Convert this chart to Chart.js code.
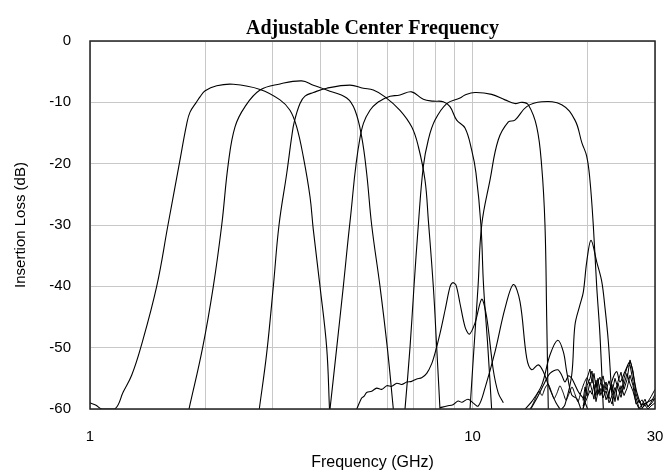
<!DOCTYPE html>
<html>
<head>
<meta charset="utf-8">
<title>Adjustable Center Frequency</title>
<script src="https://cdn.jsdelivr.net/npm/chart.js@4.4.1/dist/chart.umd.min.js"></script>
<style>
  html, body { margin: 0; padding: 0; background: #fff; }
  #wrap { width: 665px; height: 474px; }
</style>
</head>
<body>
<div id="wrap"><canvas id="filterChart" width="665" height="474"></canvas></div>
<script>
// axis ticks
const xGridTicks = [1, 2, 3, 4, 5, 6, 7, 8, 9, 10, 20, 30];
const xLabelTicks = [1, 10, 30];
const yTicks = [0, -10, -20, -30, -40, -50, -60];

// passbands: frequency (GHz) / insertion loss (dB)
const bandAFreq = [1.000, 1.037, 1.075, 1.162, 1.222, 1.285, 1.357, 1.494, 1.599, 1.712, 1.789, 1.826, 1.901, 1.939, 2.000, 2.144, 2.369, 2.783, 3.139, 3.333, 3.470, 3.612, 3.760, 3.836, 3.993, 4.157, 4.228];
const bandADb   = [-59.0, -59.4, -60, -60, -57.2, -54.5, -50, -40, -30, -20, -13.6, -11.6, -9.9, -9.1, -8.1, -7.3, -7.06, -7.9, -9.6, -11.3, -14, -18.9, -25.4, -30.8, -40, -50, -60];

const bandBFreq = [1.815, 1.970, 2.101, 2.210, 2.299, 2.394, 2.543, 2.783, 3.139, 3.578, 3.836, 4.157, 4.690, 4.930, 5.131, 5.289, 5.450, 5.730, 5.988, 6.209];
const bandBDb   = [-60, -50, -40, -30, -20, -14, -10.7, -8.0, -7.0, -6.5, -7.2, -8.0, -9.3, -11.3, -15.6, -21.6, -30, -40, -50, -60];

const bandCFreq = [2.771, 2.897, 3.015, 3.120, 3.268, 3.368, 3.420, 3.540, 3.648, 3.836, 4.157, 4.783, 5.183, 5.504, 5.906, 6.463, 6.934, 7.217, 7.514, 7.665, 7.898, 8.062, 8.222];
const bandCDb   = [-60, -50.9, -40, -30, -21.6, -15.6, -13.2, -10.2, -9.0, -8.4, -7.7, -7.2, -7.7, -8.0, -9.1, -11.3, -14.0, -17.2, -22.7, -29.2, -40, -50, -60];

const bandDFreq = [4.241, 4.416, 4.595, 4.783, 5.080, 5.395, 5.968, 6.463, 6.934, 7.436, 7.898, 8.386, 8.732, 9.093, 9.559, 9.952, 10.21, 10.52, 10.69, 10.97, 11.22];
const bandDDb   = [-60, -50, -40, -29.5, -15.8, -11.3, -9.2, -8.8, -8.3, -9.5, -9.8, -9.9, -10.7, -12.9, -14.2, -17.8, -21.5, -30, -40, -50, -60];

const bandEFreq = [6.661, 6.864, 7.032, 7.217, 7.436, 7.665, 7.980, 8.562, 9.275, 9.559, 10.15, 11.22, 12.16, 12.91, 13.45, 13.99, 14.72, 15.17, 15.47, 15.63, 15.78];
const bandEDb   = [-60, -50, -40, -30, -20.5, -16.1, -12.9, -10.2, -9.3, -8.8, -8.4, -8.7, -9.6, -10.2, -10.0, -10.4, -14.0, -20.5, -30, -45, -60];

const bandFFreq = [9.851, 10.09, 10.34, 10.57, 11.11, 11.68, 12.41, 12.91, 13.86, 15.17, 17.11, 18.53, 19.32, 19.89, 20.28, 20.69, 21.12, 21.54, 21.98];
const bandFDb   = [-60, -50, -40, -30, -22.7, -16.1, -13.2, -12.9, -10.7, -9.9, -10.4, -12.9, -16.6, -18.8, -22.7, -30, -40, -48, -60];

// spurious responses in the upper stopbands
const spur1Freq = [4.982, 5.131, 5.210, 5.289, 5.450, 5.617, 5.790, 5.968, 6.150, 6.338, 6.530, 6.730, 6.935, 7.147, 7.365, 7.591, 7.824, 7.980, 8.222, 8.476, 8.732, 8.875, 9.055, 9.275, 9.559, 9.808, 10.15, 10.57, 10.89, 11.33, 11.68, 12.04];
const spur1Db   = [-60, -58.2, -57.9, -57.3, -57.1, -56.6, -56.8, -56.2, -56.3, -55.8, -56.0, -55.6, -55.5, -55.1, -54.9, -54.2, -52.6, -50.9, -47.7, -43.9, -40.1, -39.4, -39.8, -42.8, -46.6, -47.8, -46.0, -42.1, -45.0, -53.6, -57.4, -59.0];

const spur2Freq = [8.222, 8.577, 8.892, 9.165, 9.387, 9.732, 10.03, 10.36, 10.78, 11.45, 12.16, 12.79, 13.31, 13.86, 14.28, 14.86, 15.31, 15.94, 16.53, 16.93];
const spur2Db   = [-59.8, -59.5, -59.3, -58.7, -58.9, -58.4, -59.0, -59.5, -56.6, -50.7, -43.6, -39.7, -42.5, -51.7, -53.6, -52.8, -53.9, -56.8, -59.0, -60];

const spur3Freq = [13.72, 14.28, 15.17, 15.94, 16.70, 17.28, 17.63, 18.17, 18.73, 19.20];
const spur3Db   = [-60, -58.8, -56.1, -51.2, -48.8, -50.7, -53.9, -57.7, -58.3, -60];

const spur4Freq = [14.20, 14.72, 15.47, 15.94, 16.70, 17.11, 17.45, 17.81, 18.17, 18.91, 19.49, 20.0];
const spur4Db   = [-60, -58.3, -55.6, -54.2, -53.6, -54.5, -55.6, -54.6, -55.0, -57.2, -58.3, -60];

const spur5Freq = [17.11, 17.45, 18.17, 18.53, 19.10, 19.49, 19.89, 20.41, 21.12, 21.77, 22.21, 22.65, 23.11, 23.34];
const spur5Db   = [-60, -59.3, -54.5, -46.3, -43.0, -40.9, -36.0, -32.5, -36.0, -39.2, -43.6, -49.0, -57.2, -59.5];

const spur6Freq = [22.65, 23.11, 23.82, 24.30, 25.04, 25.81, 26.33, 26.87, 27.69, 28.81, 30.0];
const spur6Db   = [-58.3, -55.6, -53.9, -55.6, -53.9, -52.3, -54.5, -57.2, -59.3, -58.8, -58.3];

// low-level ripple between 14 and 20 GHz
const rippleFreq = [14.14, 14.39, 14.66, 14.93, 15.20, 15.47, 15.76, 16.04, 16.34, 16.63, 16.93, 17.25, 17.56, 17.88, 18.21, 18.53, 18.87, 19.22, 19.57, 19.93, 20.28];
const rippleDb   = [-60, -59.2, -58.0, -57.1, -57.8, -56.6, -55.9, -57.0, -58.3, -57.4, -56.2, -57.3, -58.6, -57.5, -56.4, -57.6, -58.8, -57.2, -55.8, -54.9, -56.3];

// noise floor near the top of the band
const noiseFreq = [19.45, 19.69, 19.93, 20.28, 20.53, 20.78, 21.03, 21.29, 21.54, 21.94, 22.34, 22.75, 23.16, 23.58, 24.01, 24.45, 24.90, 25.35, 25.81, 26.28, 26.76, 27.25, 27.74, 28.25, 28.76, 29.29, 30.0];
const noise1Db  = [-60, -57.5, -55.0, -53.5, -55.8, -54.2, -56.5, -55.0, -57.8, -56.0, -58.5, -57.2, -56.0, -58.8, -55.5, -54.0, -56.8, -55.2, -52.0, -53.8, -57.5, -59.0, -58.5, -59.5, -58.8, -58.0, -56.8];
const noise2Db  = [-59.5, -58.8, -56.2, -55.0, -53.8, -56.5, -57.8, -55.5, -54.8, -57.2, -55.6, -58.0, -59.2, -57.0, -55.8, -57.5, -55.0, -53.2, -52.8, -55.5, -58.2, -59.8, -60, -59.0, -59.6, -59.2, -58.3];
const noise3Db  = [-60, -59.0, -58.2, -57.0, -57.6, -56.0, -58.8, -57.2, -56.6, -58.2, -57.0, -59.0, -57.8, -56.5, -58.6, -56.2, -57.8, -56.6, -54.5, -56.2, -59.2, -58.6, -59.8, -59.4, -60, -59.5, -59.0];
const noise4Db  = [-58.6, -56.4, -57.9, -55.6, -57.0, -58.4, -55.3, -57.6, -56.1, -54.6, -56.9, -55.4, -57.3, -55.0, -56.7, -58.1, -56.0, -54.2, -55.9, -57.1, -58.9, -60, -59.3, -58.4, -59.7, -58.9, -57.6];

function pts(freq, db) {
    return freq.map((f, i) => ({ x: f, y: db[i] }));
}
function trace(freq, db, tension, width) {
    const ds = { data: pts(freq, db), tension: tension };
    if (width) ds.borderWidth = width;
    return ds;
}

const datasets = [
    trace(bandAFreq, bandADb, 0.4),
    trace(bandBFreq, bandBDb, 0.4),
    trace(bandCFreq, bandCDb, 0.4),
    trace(bandDFreq, bandDDb, 0.4),
    trace(bandEFreq, bandEDb, 0.4),
    trace(bandFFreq, bandFDb, 0.4),
    trace(spur1Freq, spur1Db, 0.3),
    trace(spur2Freq, spur2Db, 0.35),
    trace(spur3Freq, spur3Db, 0.35),
    trace(spur4Freq, spur4Db, 0.3),
    trace(spur5Freq, spur5Db, 0.35),
    trace(spur6Freq, spur6Db, 0.3),
    trace(rippleFreq, rippleDb, 0.2, 1),
    trace(noiseFreq, noise1Db, 0, 1),
    trace(noiseFreq, noise2Db, 0, 1),
    trace(noiseFreq, noise3Db, 0, 1),
    trace(noiseFreq, noise4Db, 0, 1)
];

// box around the plot area
const frameBox = {
    id: 'frameBox',
    afterDatasetsDraw(chart) {
        const { ctx, chartArea: a } = chart;
        ctx.save();
        ctx.strokeStyle = '#222';
        ctx.lineWidth = 1.5;
        ctx.strokeRect(a.left, a.top, a.right - a.left, a.bottom - a.top);
        ctx.restore();
    }
};

const sans = '"Liberation Sans", Arial, sans-serif';

new Chart(document.getElementById('filterChart'), {
    type: 'line',
    data: { datasets },
    options: {
        responsive: false,
        animation: false,
        devicePixelRatio: 1,
        layout: { padding: { left: 0, right: 10, top: 0, bottom: 0 } },
        elements: {
            point: { radius: 0 },
            line: { borderColor: '#000', borderWidth: 1.1, fill: false }
        },
        plugins: {
            legend: { display: false },
            tooltip: { enabled: false },
            title: {
                display: true,
                text: 'Adjustable Center Frequency',
                fullSize: false,
                color: '#000',
                font: { family: '"Liberation Serif", "Times New Roman", serif', size: 20, weight: 'bold' },
                padding: { top: 17, bottom: 0 }
            }
        },
        scales: {
            x: {
                type: 'logarithmic',
                min: 1,
                max: 30,
                afterBuildTicks: s => { s.ticks = xGridTicks.map(v => ({ value: v })); },
                afterFit: s => { s.height = 65; s.paddingLeft = 0; s.paddingRight = 0; },
                ticks: {
                    autoSkip: false,
                    maxRotation: 0,
                    padding: 19,
                    color: '#000',
                    font: { family: sans, size: 15 },
                    callback: v => xLabelTicks.includes(v) ? String(v) : ''
                },
                grid: { color: '#c8c8c8', lineWidth: 1, drawTicks: false },
                border: { display: false },
                title: {
                    display: true,
                    text: 'Frequency (GHz)',
                    color: '#000',
                    font: { family: sans, size: 16 },
                    padding: { top: 0, bottom: 2 }
                }
            },
            y: {
                min: -60,
                max: 0,
                afterBuildTicks: s => { s.ticks = yTicks.map(v => ({ value: v })); },
                afterFit: s => { s.width = 90; },
                ticks: {
                    padding: 19,
                    color: '#000',
                    font: { family: sans, size: 15 }
                },
                grid: { color: '#c8c8c8', lineWidth: 1, drawTicks: false },
                border: { display: false },
                title: {
                    display: true,
                    text: 'Insertion Loss (dB)',
                    color: '#000',
                    font: { family: sans, size: 15 },
                    padding: { top: 12, bottom: 0 }
                }
            }
        }
    },
    plugins: [frameBox]
});
</script>
</body>
</html>
